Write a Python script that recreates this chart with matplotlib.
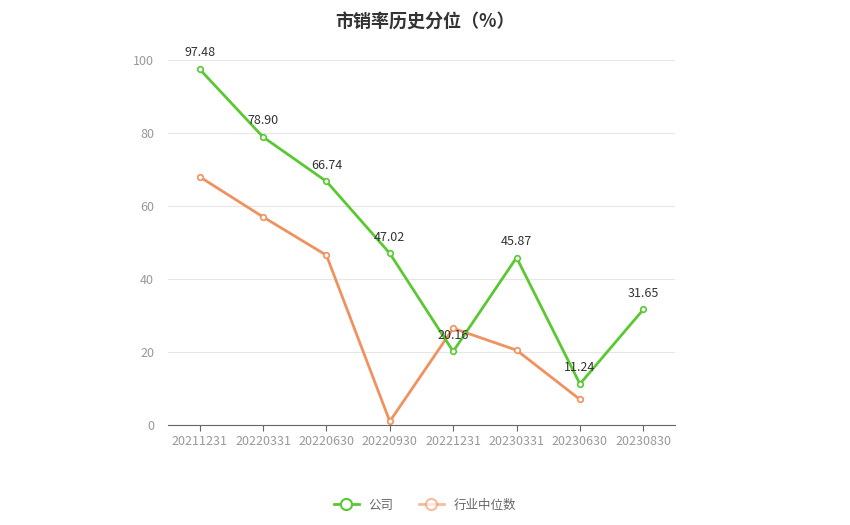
import matplotlib
matplotlib.use("Agg")
import matplotlib.pyplot as plt
from matplotlib.lines import Line2D

plt.rcParams['font.family'] = ['Noto Sans CJK SC', 'DejaVu Sans']

dates = ["20211231","20220331","20220630","20220930","20221231","20230331","20230630","20230830"]
company = [97.48, 78.90, 66.74, 47.02, 20.16, 45.87, 11.24, 31.65]
industry = [68.0, 57.0, 46.5, 1.0, 26.5, 20.5, 7.0]

fig = plt.figure(figsize=(8.5, 5.25), dpi=100)
ax = fig.add_axes([168/850, 1-425/525, 507/850, 365/525])
green = "#5ac832"
orange = "#f0915f"
x = list(range(len(dates)))
ax.plot(x, company, color=green, lw=2, marker='o', ms=4, mfc='white', mec=green, mew=1.2, zorder=3)
ax.plot(x[:len(industry)], industry, color=orange, lw=2, marker='o', ms=4, mfc='white', mec=orange, mew=1.2, zorder=2)
for i, v in enumerate(company):
    ax.annotate(f"{v:.2f}", (i, v), xytext=(0, 7), textcoords='offset points', ha='center', va='bottom', fontsize=9, color='#333333')

ax.set_xlim(-0.5, len(dates)-0.5)
ax.set_ylim(0, 100)
ax.set_yticks([0,20,40,60,80,100])
ax.set_xticks(x)
ax.set_xticklabels(dates)
ax.grid(axis='y', color='#e6e6e6', lw=0.8)
ax.set_axisbelow(True)
for s in ['top','right','left']:
    ax.spines[s].set_visible(False)
ax.spines['bottom'].set_color('#666666')
ax.tick_params(axis='y', length=0, labelcolor='#999999', labelsize=9, pad=10)
ax.tick_params(axis='x', colors='#666666', labelcolor='#999999', labelsize=9, length=4)

fig.text(0.5, 0.975, "市销率历史分位（%）", ha='center', va='top', fontsize=13, fontweight='bold', color='#333333')
handles = [Line2D([0],[0], color=green, lw=2, marker='o', ms=8, mfc='white', mec=green, mew=1.5),
           Line2D([0],[0], color=orange, lw=2, marker='o', ms=8, mfc='white', mec=orange, mew=1.5, alpha=0.6)]
fig.legend(handles, ["公司", "行业中位数"], loc='center', bbox_to_anchor=(0.5, 1-505/525), ncol=2, frameon=False,
           fontsize=9, labelcolor='#666666', handlelength=2, columnspacing=2)
fig.savefig("out.png", dpi=100)
